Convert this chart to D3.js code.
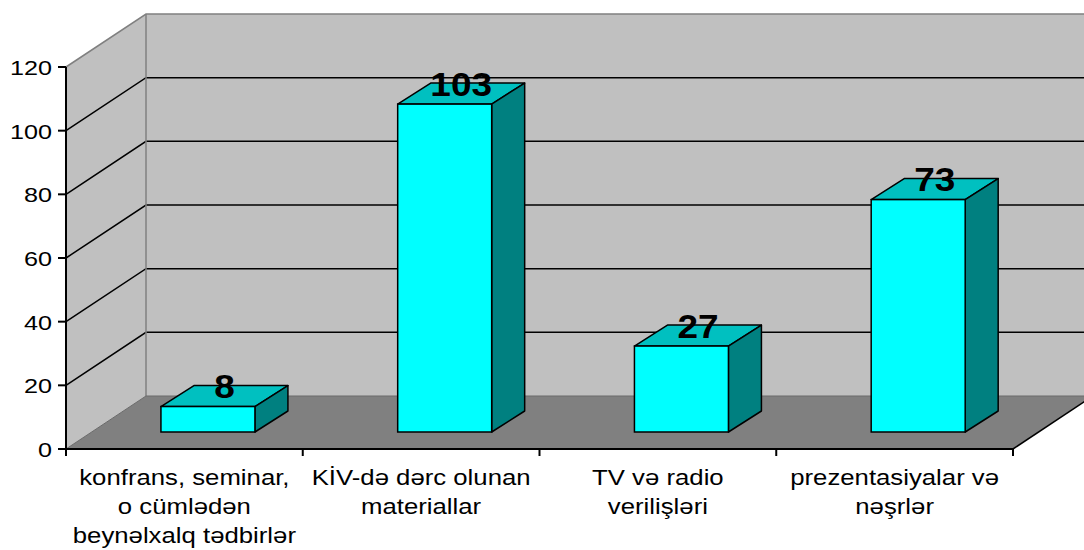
<!DOCTYPE html>
<html>
<head>
<meta charset="utf-8">
<script src="https://cdn.jsdelivr.net/npm/d3@7"></script>
<style>
  body { margin: 0; background: #fff; }
  svg { display: block; font-family: Arial, "Liberation Sans", sans-serif; }
</style>
</head>
<body>
<svg id="chart"></svg>
<script>
// chart data
var categories = [
  "konfrans, seminar,\no cümlədən\nbeynəlxalq tədbirlər",
  "KİV-də dərc olunan\nmateriallar",
  "TV və radio\nverilişləri",
  "prezentasiyalar və\nnəşrlər"
];
var values = [8, 103, 27, 73];
var yTicks = [0, 20, 40, 60, 80, 100, 120];

var svgWidth = 1084, svgHeight = 550;
var svg = d3.select("#chart")
    .attr("width", svgWidth)
    .attr("height", svgHeight);

// front plane of the plot + depth offset of the floor
var plotLeft = 66, plotRight = 1013, plotBase = 449, plotTop = 67;
var DX = 80, DY = 53;

var x = d3.scaleBand()
    .domain(categories)
    .range([plotLeft, plotRight])
    .padding(0);

var y = d3.scaleLinear()
    .domain([0, 120])
    .range([plotBase, plotTop]);

// bar sits partly back on the floor
var barZ = {dx: 25.6, dy: 17};     // front face offset
var barD = {dx: 33, dy: 21};       // bar depth
var barOff = 0.401, barW = 0.397;  // fraction of band

var g = svg.append("g");

// left wall
g.append("path")
  .attr("d", d3.line()([[plotLeft, y(120)], [plotLeft + DX, y(120) - DY], [plotLeft + DX, plotBase - DY], [plotLeft, plotBase]]))
  .attr("fill", "#c0c0c0");

// back wall
g.append("rect")
  .attr("x", plotLeft + DX).attr("y", y(120) - DY)
  .attr("width", svgWidth - plotLeft - DX + 20).attr("height", plotBase - y(120))
  .attr("fill", "#c0c0c0");

// floor
g.append("path")
  .attr("d", d3.line()([[plotLeft, plotBase], [plotLeft + DX, plotBase - DY], [plotRight + DX, plotBase - DY], [plotRight, plotBase]]))
  .attr("fill", "#808080");

// gridlines (left wall + back wall)
yTicks.filter(function(d) { return d > 0 && d < 120; }).forEach(function(v) {
  g.append("path")
    .attr("d", d3.line()([[plotLeft, y(v)], [plotLeft + DX, y(v) - DY], [svgWidth + 10, y(v) - DY]]))
    .attr("fill", "none")
    .attr("stroke", "#000")
    .attr("stroke-width", 1.5);
});

// wall edges
g.append("path")
  .attr("d", d3.line()([[plotLeft, y(120)], [plotLeft + DX, y(120) - DY], [svgWidth + 10, y(120) - DY]]))
  .attr("fill", "none").attr("stroke", "#808080").attr("stroke-width", 1.5);
g.append("line")
  .attr("x1", plotLeft + DX).attr("y1", y(120) - DY)
  .attr("x2", plotLeft + DX).attr("y2", plotBase - DY)
  .attr("stroke", "#808080").attr("stroke-width", 1.5);
g.append("path")
  .attr("d", d3.line()([[plotLeft, plotBase], [plotLeft + DX, plotBase - DY], [svgWidth + 10, plotBase - DY]]))
  .attr("fill", "none").attr("stroke", "#6a6a6a").attr("stroke-width", 1);

// floor right edge
g.append("line")
  .attr("x1", plotRight).attr("y1", plotBase)
  .attr("x2", plotRight + DX).attr("y2", plotBase - DY)
  .attr("stroke", "#000").attr("stroke-width", 1.5);

// bars
var bars = g.selectAll(".bar")
  .data(values)
  .enter().append("g")
  .attr("class", "bar");

function yb(v) { return y(v) - barZ.dy; }
function x0(d, i) { return x(categories[i]) + x.bandwidth() * barOff; }
function x1(d, i) { return x0(d, i) + x.bandwidth() * barW; }

// top face
bars.append("path")
  .attr("d", function(d, i) {
    var a = x0(d, i), b = x1(d, i), t = yb(d);
    return d3.line()([[a, t], [a + barD.dx, t - barD.dy], [b + barD.dx, t - barD.dy], [b, t]]) + "Z";
  })
  .attr("fill", "#00c0c0").attr("stroke", "#000").attr("stroke-width", 1.5)
  .attr("stroke-linejoin", "round");

// side face
bars.append("path")
  .attr("d", function(d, i) {
    var b = x1(d, i), t = yb(d), bt = yb(0);
    return d3.line()([[b, t], [b + barD.dx, t - barD.dy], [b + barD.dx, bt - barD.dy], [b, bt]]) + "Z";
  })
  .attr("fill", "#008080").attr("stroke", "#000").attr("stroke-width", 1.5)
  .attr("stroke-linejoin", "round");

// front face
bars.append("rect")
  .attr("x", x0)
  .attr("y", function(d) { return yb(d); })
  .attr("width", x.bandwidth() * barW)
  .attr("height", function(d) { return yb(0) - yb(d); })
  .attr("fill", "#00ffff").attr("stroke", "#000").attr("stroke-width", 1.5);

// value labels on top face
bars.append("text")
  .attr("transform", function(d, i) {
    var cx = (x0(d, i) + x1(d, i)) / 2 + barD.dx / 2;
    var cy = yb(d) - barD.dy / 2 + 2;
    return "translate(" + cx + "," + cy + ") scale(1.12,1)";
  })
  .attr("text-anchor", "middle")
  .style("font-size", "33px")
  .style("font-weight", "bold")
  .attr("fill", "#000")
  .text(function(d) { return d; });

// y axis
g.append("line")
  .attr("x1", plotLeft).attr("y1", y(120))
  .attr("x2", plotLeft).attr("y2", plotBase)
  .attr("stroke", "#000").attr("stroke-width", 2);

yTicks.forEach(function(v) {
  g.append("line")
    .attr("x1", plotLeft - 8).attr("y1", y(v))
    .attr("x2", plotLeft).attr("y2", y(v))
    .attr("stroke", "#000").attr("stroke-width", 2);
  g.append("text")
    .attr("transform", "translate(" + (plotLeft - 14) + "," + (y(v) + 8) + ") scale(1.2,1)")
    .attr("text-anchor", "end")
    .style("font-size", "21px")
    .attr("fill", "#000")
    .text(v);
});

// x axis
g.append("line")
  .attr("x1", plotLeft).attr("y1", plotBase)
  .attr("x2", plotRight).attr("y2", plotBase)
  .attr("stroke", "#000").attr("stroke-width", 2);

categories.concat([null]).forEach(function(c) {
  var tx = c === null ? plotRight : x(c);
  g.append("line")
    .attr("x1", tx).attr("y1", plotBase)
    .attr("x2", tx).attr("y2", plotBase + 7)
    .attr("stroke", "#000").attr("stroke-width", 2);
});

// category labels
categories.forEach(function(c) {
  var cx = x(c) + x.bandwidth() / 2;
  c.split("\n").forEach(function(line, k) {
    g.append("text")
      .attr("transform", "translate(" + cx + "," + (485 + k * 29) + ") scale(1.17,1)")
      .attr("text-anchor", "middle")
      .style("font-size", "22px")
      .attr("fill", "#000")
      .text(line);
  });
});
</script>
</body>
</html>
